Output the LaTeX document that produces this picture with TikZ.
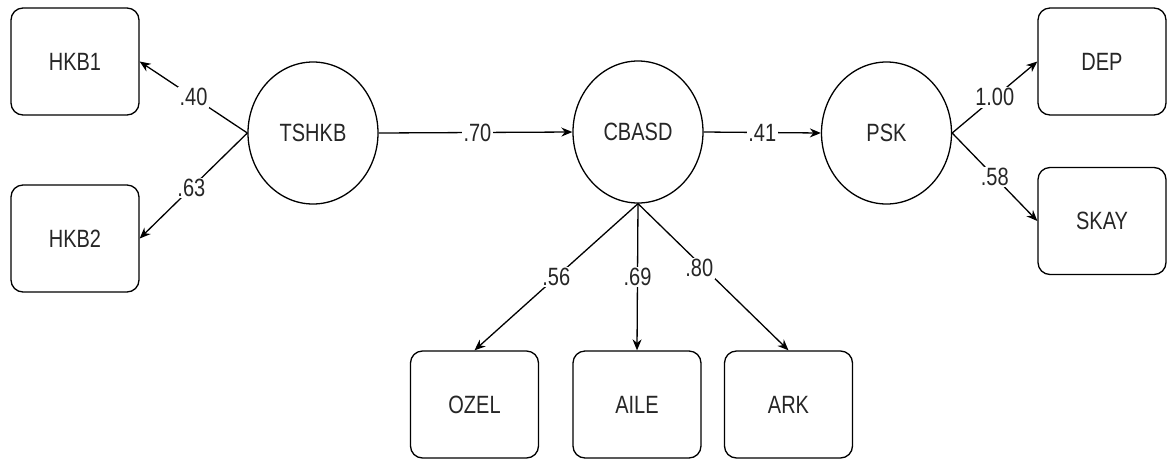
\documentclass[tikz,border=0pt]{standalone}
\usepackage{fontspec}
\setmainfont{Liberation Sans}[FakeStretch=0.8]
\usetikzlibrary{shapes.geometric,arrows.meta}
\begin{document}
\begin{tikzpicture}[x=1pt,y=-1pt,
  txt/.style={font=\fontsize{25}{29}\selectfont, text=black!85},
  box/.style={txt, draw, rounded corners=12pt, minimum width=128pt, minimum height=107pt, line width=1.3pt},
  lat/.style={txt, draw, ellipse, minimum width=130pt, minimum height=142pt, inner sep=0pt, line width=1.3pt},
  arr/.style={-{Stealth[length=11pt,width=9pt]}, line width=1.3pt},
  lab/.style={txt, fill=white, inner sep=1.5pt}]
\useasboundingbox (0,0) rectangle (1176,459);
\node[box] (hkb1) at (75,61.5) {HKB1};
\node[box] (hkb2) at (75,238.5) {HKB2};
\node[lat] (tshkb) at (313,133) {TSHKB};
\node[lat] (cbasd) at (638,132) {CBASD};
\node[lat] (psk) at (886.5,133) {PSK};
\node[box] (dep) at (1102,61.5) {DEP};
\node[box] (skay) at (1102,221) {SKAY};
\node[box] (ozel) at (474.5,404.5) {OZEL};
\node[box] (aile) at (637,404.5) {AILE};
\node[box] (ark) at (788.5,404.5) {ARK};
\draw[arr] (tshkb.west) -- node[lab,pos=0.5] {.40} (hkb1.east);
\draw[arr] (tshkb.west) -- node[lab,pos=0.52] {.63} (hkb2.east);
\draw[arr] (tshkb.east) -- node[lab,pos=0.51] {.70} (cbasd.west);
\draw[arr] (cbasd.east) -- node[lab,pos=0.5] {.41} (psk.west);
\draw[arr] (psk.east) -- node[lab,pos=0.5] {1.00} (dep.west);
\draw[arr] (psk.east) -- node[lab,pos=0.5] {.58} (skay.west);
\draw[arr] (cbasd.south) -- node[lab,pos=0.5] {.56} (ozel.north);
\draw[arr] (cbasd.south) -- node[lab,pos=0.5] {.69} (aile.north);
\draw[arr] (cbasd.south) -- node[lab,pos=0.44,xshift=-5pt] {.80} (ark.north);
\end{tikzpicture}
\end{document}
